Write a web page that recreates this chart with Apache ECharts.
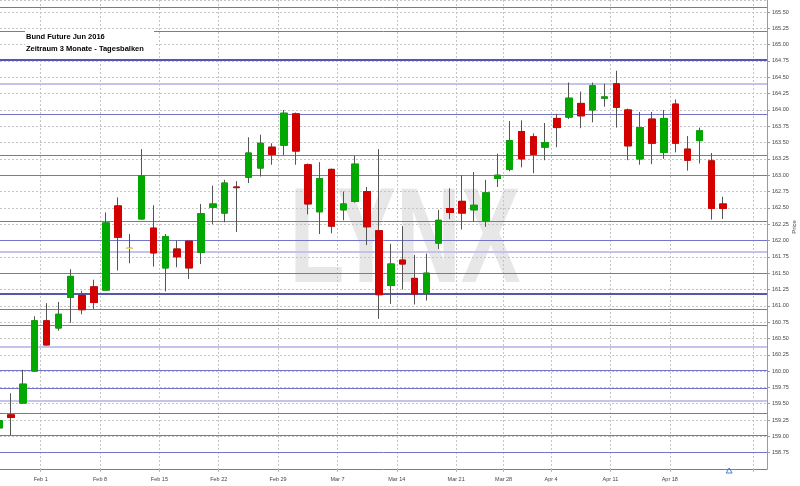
<!DOCTYPE html>
<html><head><meta charset="utf-8">
<script src="https://cdn.jsdelivr.net/npm/echarts@6/dist/echarts.min.js"></script>
<style>html,body{margin:0;padding:0;background:#fff}#c{width:800px;height:486px}</style>
</head><body><div id="c"></div>
<script>
const dates = ['2016-01-26','2016-01-27','2016-01-28','2016-01-29',
 '2016-02-01','2016-02-02','2016-02-03','2016-02-04','2016-02-05',
 '2016-02-08','2016-02-09','2016-02-10','2016-02-11','2016-02-12',
 '2016-02-15','2016-02-16','2016-02-17','2016-02-18','2016-02-19',
 '2016-02-22','2016-02-23','2016-02-24','2016-02-25','2016-02-26',
 '2016-02-29','2016-03-01','2016-03-02','2016-03-03','2016-03-04',
 '2016-03-07','2016-03-08','2016-03-09','2016-03-10','2016-03-11',
 '2016-03-14','2016-03-15','2016-03-16','2016-03-17','2016-03-18',
 '2016-03-21','2016-03-22','2016-03-23','2016-03-24',
 '2016-03-29','2016-03-30','2016-03-31','2016-04-01',
 '2016-04-04','2016-04-05','2016-04-06','2016-04-07','2016-04-08',
 '2016-04-11','2016-04-12','2016-04-13','2016-04-14','2016-04-15',
 '2016-04-18','2016-04-19','2016-04-20','2016-04-21','2016-04-22'];
const opens = [159.13,159.33,159.51,160.00,
 160.77,160.66,161.13,161.16,161.29,
 161.24,162.53,161.88,162.33,162.19,
 161.58,161.87,161.99,161.82,162.51,
 162.42,162.82,162.97,163.11,163.43,
 163.46,163.94,163.16,162.44,163.09,
 162.47,162.60,162.75,162.15,161.31,
 161.70,161.42,161.20,161.96,162.49,
 162.60,162.47,162.30,162.95,
 163.09,163.67,163.59,163.43,
 163.87,163.89,164.10,164.00,164.18,
 164.40,164.00,163.25,163.86,163.35,
 164.09,163.40,163.53,163.22,162.56];
const closes = [159.24,159.29,159.80,160.77,
 160.40,160.87,161.45,160.94,161.05,
 162.27,162.05,161.88,162.99,161.81,
 162.06,161.75,161.58,162.41,162.56,
 162.88,162.81,163.34,163.49,163.32,
 163.95,163.37,162.56,162.95,162.22,
 162.56,163.17,162.21,161.17,161.64,
 161.64,161.18,161.50,162.31,162.43,
 162.42,162.54,162.73,163.00,
 163.53,163.25,163.32,163.50,
 163.73,164.18,163.91,164.37,164.20,
 164.04,163.45,163.73,163.49,163.87,
 163.49,163.23,163.68,162.49,162.49];
const lows = [159.05,159.02,159.50,159.99,
 160.39,160.62,160.74,160.87,160.95,
 161.24,161.54,161.65,162.32,161.60,
 161.22,161.59,161.41,161.64,162.25,
 162.28,162.13,162.88,162.98,163.16,
 163.31,163.16,162.40,162.10,162.11,
 162.31,162.58,161.93,160.80,161.03,
 161.25,161.02,161.08,161.87,162.33,
 162.17,162.29,162.21,162.82,
 163.06,163.12,163.03,163.23,
 163.43,163.86,163.72,163.81,164.05,
 163.73,163.23,163.16,163.17,163.25,
 163.35,163.07,163.18,162.32,162.33];
const highs = [159.35,159.66,160.02,160.84,
 161.04,161.06,161.56,161.23,161.40,
 162.43,162.66,162.10,163.40,162.54,
 162.10,162.00,162.00,162.56,162.84,
 162.93,162.91,163.58,163.62,163.49,
 164.00,163.96,163.18,163.20,163.10,
 162.75,163.30,162.82,163.40,161.95,
 162.22,161.78,161.80,162.47,162.80,
 163.00,163.05,162.93,163.33,
 163.83,163.84,163.64,163.80,
 163.94,164.42,164.28,164.42,164.40,
 164.60,164.02,163.97,163.97,164.00,
 164.16,163.60,163.73,163.34,162.67];
const futureDates = ['2016-04-25','2016-04-26','2016-04-27'];
const tickDates = ['2016-02-01','2016-02-08','2016-02-15','2016-02-22','2016-02-29','2016-03-07',
 '2016-03-14','2016-03-21','2016-03-29','2016-04-04','2016-04-11','2016-04-18'];
const tickLabels = ['Feb 1','Feb 8','Feb 15','Feb 22','Feb 29','Mar 7','Mar 14','Mar 21','Mar 28','Apr 4','Apr 11','Apr 18'];
const extraGridDates = ['2016-04-27'];
const markerDate = '2016-04-25';
const neutralDates = ['2016-02-10'];
const levels = [165.58,165.21,164.77,164.40,163.94,163.31,163.00,162.30,162.01,161.83,161.50,
 161.18,160.94,160.70,160.38,160.01,159.73,159.54,159.35,159.01,158.75];
const strongLevels = [164.77,161.18];
const faintLevels = [164.40,161.83,160.38,159.54];
const titleLines = ['Bund Future Jun 2016','Zeitraum 3 Monate - Tagesbalken'];
const yName = 'Price';

const UP = '#00a800', DOWN = '#d40000', NEUTRAL = '#ece27a', WICK = '#555555';
const FONT = '"Liberation Sans", Arial, sans-serif';
const allDates = dates.concat(futureDates);
const slotStart = d => allDates.indexOf(d) - 0.5;   // left boundary of a day's slot
const tickValues = tickDates.map(slotStart);
const gridValues = tickValues.concat(extraGridDates.map(slotStart));

const candleData = dates.map((d,i)=>[i,opens[i],closes[i],lows[i],highs[i]]);
const bodyData = dates.map((d,i)=>{
  const o=opens[i], c=closes[i];
  const item = {value:[i,o,c,Math.min(o,c),Math.max(o,c)]};
  if (neutralDates.includes(d)) item.itemStyle = {color:NEUTRAL,color0:NEUTRAL,borderColor:NEUTRAL,borderColor0:NEUTRAL};
  return item;
});
const levelData = levels.map(v=>{
  let ls = {color:'#7474c8', width:1, type:'solid'};
  if (strongLevels.includes(v)) ls = {color:'#5656b0', width:2, type:'solid'};
  if (faintLevels.includes(v)) ls = {color:'#c4c4ea', width:2, type:'solid'};
  return {yAxis:v, lineStyle:ls};
});

const chart = echarts.init(document.getElementById('c'), null, {renderer:'canvas'});
const gridStyle = {color:'#c4c4c4', width:1, type:[2,2]};
chart.setOption({
  animation:false,
  backgroundColor:'#ffffff',
  grid:{left:0, right:33, top:0, bottom:17, containLabel:false},
  xAxis:{
    type:'value', min:0.073, max:64.69,
    axisLine:{show:true, lineStyle:{color:'#7474c8', width:1}},
    axisTick:{show:true, length:3, customValues:gridValues, lineStyle:{color:'#bbbbbb'}},
    splitLine:{show:true, lineStyle:gridStyle},
    axisLabel:{customValues:tickValues, showMinLabel:true, showMaxLabel:true,
      formatter:(v)=>{const k=tickValues.indexOf(v);return k>=0?tickLabels[k]:'';},
      fontSize:5.5, color:'#444', fontFamily:FONT, margin:7}
  },
  yAxis:{
    type:'value', position:'right', min:158.5, max:165.684, interval:0.25,
    axisLine:{show:true, lineStyle:{color:'#9a9a9a'}},
    axisTick:{show:true, length:3, lineStyle:{color:'#9a9a9a'}},
    splitLine:{show:true, lineStyle:gridStyle},
    axisLabel:{showMinLabel:false, showMaxLabel:false, formatter:(v)=>v.toFixed(2),
      fontSize:5.5, color:'#444', fontFamily:FONT, margin:5}
  },
  series:[
    {type:'line', data:[], z:1, silent:true,
     markLine:{z:1, silent:true, symbol:['none','none'], label:{show:false}, animation:false, data:levelData}},
    {type:'candlestick', name:'wick', data:candleData, barWidth:7, z:3, silent:true,
     encode:{x:0, y:[1,2,3,4]},
     itemStyle:{color:UP, color0:DOWN, borderColor:WICK, borderColor0:WICK, borderWidth:1}},
    {type:'candlestick', name:'body', data:bodyData, barWidth:7, z:4, silent:true,
     encode:{x:0, y:[1,2,3,4]},
     itemStyle:{color:UP, color0:DOWN, borderColor:UP, borderColor0:DOWN, borderWidth:1}}
  ]
});

const mx = chart.convertToPixel({xAxisIndex:0}, slotStart(markerDate));
const yBase = chart.convertToPixel({yAxisIndex:0}, 158.5);

chart.setOption({
  graphic:[
    {type:'text', z:-10, x:405, y:244, scaleX:0.66,
     style:{text:'LYNX', font:'bold 136px '+FONT, fill:'#e7e7e7', align:'center', verticalAlign:'middle'}},
    {type:'rect', z:100, shape:{x:25, y:30, width:129, height:28}, style:{fill:'#ffffff'}},
    {type:'text', z:101, x:26, y:37, style:{text:titleLines[0], font:'bold 7.5px '+FONT, fill:'#000', verticalAlign:'middle'}},
    {type:'text', z:101, x:26, y:49, style:{text:titleLines[1], font:'bold 7.5px '+FONT, fill:'#000', verticalAlign:'middle'}},
    {type:'text', z:101, x:794, y:227, rotation:Math.PI/2,
     style:{text:yName, font:'6px '+FONT, fill:'#444', align:'center', verticalAlign:'middle'}},
    {type:'polygon', z:101, shape:{points:[[mx-3,yBase+4],[mx+3,yBase+4],[mx,yBase-1]]},
     style:{fill:'none', stroke:'#4a7fd0', lineWidth:1}}
  ]
});
</script></body></html>
